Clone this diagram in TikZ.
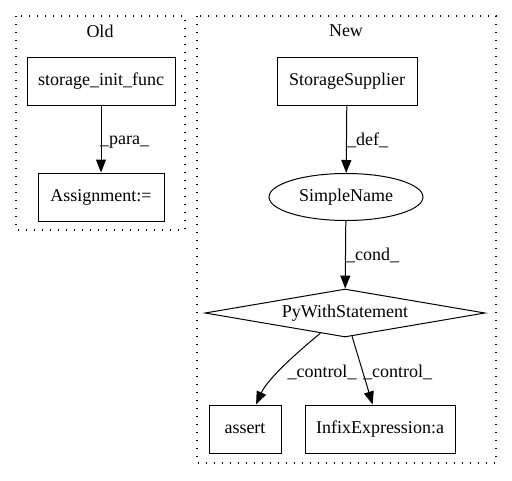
\documentclass[tikz,border=0pt]{standalone}
\usepackage{fontspec}
\setmainfont{Liberation Serif}
\usetikzlibrary{shapes.geometric,arrows.meta}
\begin{document}
\begin{tikzpicture}[x=1pt,y=-1pt,
  every node/.style={font=\fontsize{18}{21}\selectfont},
  box/.style={draw,line width=1pt,rectangle,minimum height=48pt,inner sep=0pt},
  cluster/.style={draw,line width=1.2pt,dash pattern=on 1.3pt off 6.7pt},
  lbl/.style={inner sep=0pt},
  arr/.style={draw,line width=1pt,-{Triangle[length=13pt,width=10pt]}}]
\useasboundingbox (0,0) rectangle (512,480);
\draw[cluster] (16,16) rectangle (185,230);
\draw[cluster] (197,16) rectangle (496,463);
\node[lbl] (oldl) at (100,31) {Old};
\node[lbl] (newl) at (346,31) {New};
\node[box,minimum width=148pt] (sif) at (101,81) {storage\_init\_func};
\node[box,minimum width=126pt] (asg) at (101,197) {Assignment:=};
\node[box,minimum width=140pt] (ss) at (347,81) {StorageSupplier};
\node[draw,line width=1pt,ellipse,minimum width=154pt,minimum height=47pt,inner sep=0pt] (sn) at (346,197) {SimpleName};
\node[draw,line width=1pt,diamond,aspect=5.83,minimum width=280pt,minimum height=48pt,inner sep=0pt] (pws) at (345,313) {PyWithStatement};
\node[box,minimum width=72pt] (asrt) at (245,429) {assert};
\node[box,minimum width=150pt] (inf) at (380,429) {InfixExpression:a};
\draw[arr] (sif) -- (asg);
\node[lbl,anchor=west] (lpara) at (100,142) {\_para\_};
\draw[arr] (ss) -- (sn);
\node[lbl,anchor=west] (ldef) at (347,140) {\_def\_};
\draw[arr] (sn) -- (pws);
\node[lbl,anchor=west] (lcond) at (346,255) {\_cond\_};
\draw[arr] (pws) .. controls (300,350) and (268,378) .. (asrt);
\node[lbl] (lc1) at (322,372) {\_control\_};
\draw[arr] (pws) -- (inf);
\node[lbl,anchor=west] (lc2) at (363,372) {\_control\_};
\end{tikzpicture}
\end{document}
